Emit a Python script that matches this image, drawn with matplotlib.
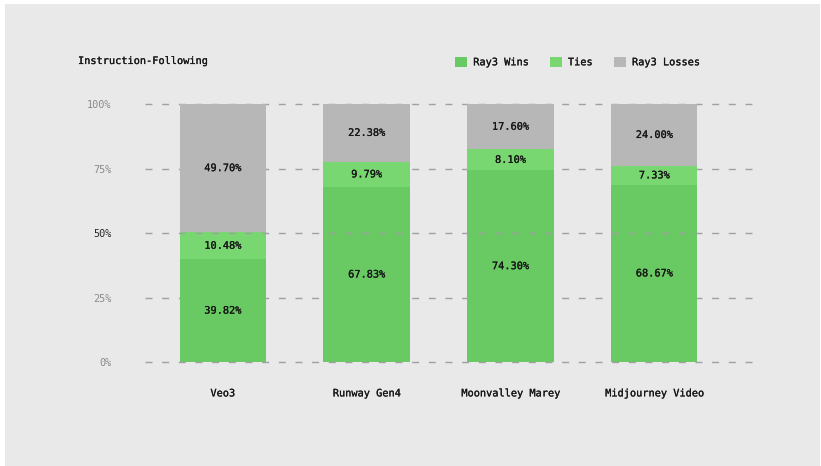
import numpy as np
import matplotlib.pyplot as plt
import matplotlib.patheffects as pe
from matplotlib.patches import Rectangle

models = ["Veo3", "Runway Gen4", "Moonvalley Marey", "Midjourney Video"]
wins = [39.82, 67.83, 74.30, 68.67]
ties = [10.48, 9.79, 8.10, 7.33]
losses = [49.70, 22.38, 17.60, 24.00]
yticks = [0, 25, 50, 75, 100]

c_win = "#69c963"
c_tie = "#79d771"
c_loss = "#b7b7b7"
bg = "#e9e9e9"
font = "DejaVu Sans Mono"
fs = 7.4
dash = (0, (5, 7))
ink = "#161616"
heavy = [pe.withStroke(linewidth=0.15, foreground=ink)]

fig = plt.figure(figsize=(8.21, 4.66), dpi=100, facecolor="white")
# grey panel with a thin white margin on the top/left/right
fig.patches.append(Rectangle((5 / 821, 0), 815 / 821, 462 / 466, transform=fig.transFigure,
                             facecolor=bg, edgecolor="none", zorder=-10))
ax = fig.add_axes([145 / 821, 1 - 362 / 466, (752 - 145) / 821, (362 - 104) / 466])
ax.set_facecolor(bg)

x = np.arange(len(models))
w = 0.6
wins = np.array(wins)
ties = np.array(ties)
losses = np.array(losses)

ax.bar(x, wins, w, color=c_win, label="Ray3 Wins", zorder=2)
ax.bar(x, ties, w, bottom=wins, color=c_tie, label="Ties", zorder=2)
ax.bar(x, losses, w, bottom=wins + ties, color=c_loss, label="Ray3 Losses", zorder=2)

for i in range(len(models)):
    for val, yc in [(wins[i], wins[i] / 2),
                    (ties[i], wins[i] + ties[i] / 2),
                    (losses[i], wins[i] + ties[i] + losses[i] / 2)]:
        ax.text(x[i], yc, f"{val:.2f}%", ha="center", va="center", fontsize=fs,
                family=font, color=ink, zorder=3, path_effects=heavy)

# dashed guide lines: baseline and 50% sit on top of the bars
for yv in yticks:
    z = 2.5 if yv in (0, 50) else 1
    ax.axhline(yv, color="#a0a0a0", linestyle=dash, linewidth=1.0, zorder=z, clip_on=False)

ax.set_xlim(-0.54, 3.68)
ax.set_ylim(0, 100)
ax.set_yticks(yticks)
ax.set_yticklabels([f"{t}%" for t in yticks], family=font, fontsize=fs, color="#8a8a8a")
ax.get_yticklabels()[2].set_color("#2a2a2a")
ax.set_xticks(x)
ax.set_xticklabels(models, family=font, fontsize=fs, color=ink)
for lab in ax.get_xticklabels():
    lab.set_path_effects(heavy)
ax.tick_params(axis="y", length=0, pad=24)
ax.tick_params(axis="x", length=0, pad=19)
for s in ax.spines.values():
    s.set_visible(False)

fig.text(78 / 821, 1 - 61 / 466, "Instruction-Following", family=font, fontsize=fs,
         color=ink, va="center", path_effects=heavy)
leg = fig.legend(loc="center left", bbox_to_anchor=(446 / 821, 1 - 62 / 466), ncol=3,
                 frameon=False, prop={"family": font, "size": fs}, handlelength=1.15,
                 handleheight=1.15, columnspacing=2.1, handletextpad=0.6)
for t in leg.get_texts():
    t.set_color(ink)
    t.set_path_effects(heavy)

fig.savefig("out.png", dpi=100, facecolor="white")
